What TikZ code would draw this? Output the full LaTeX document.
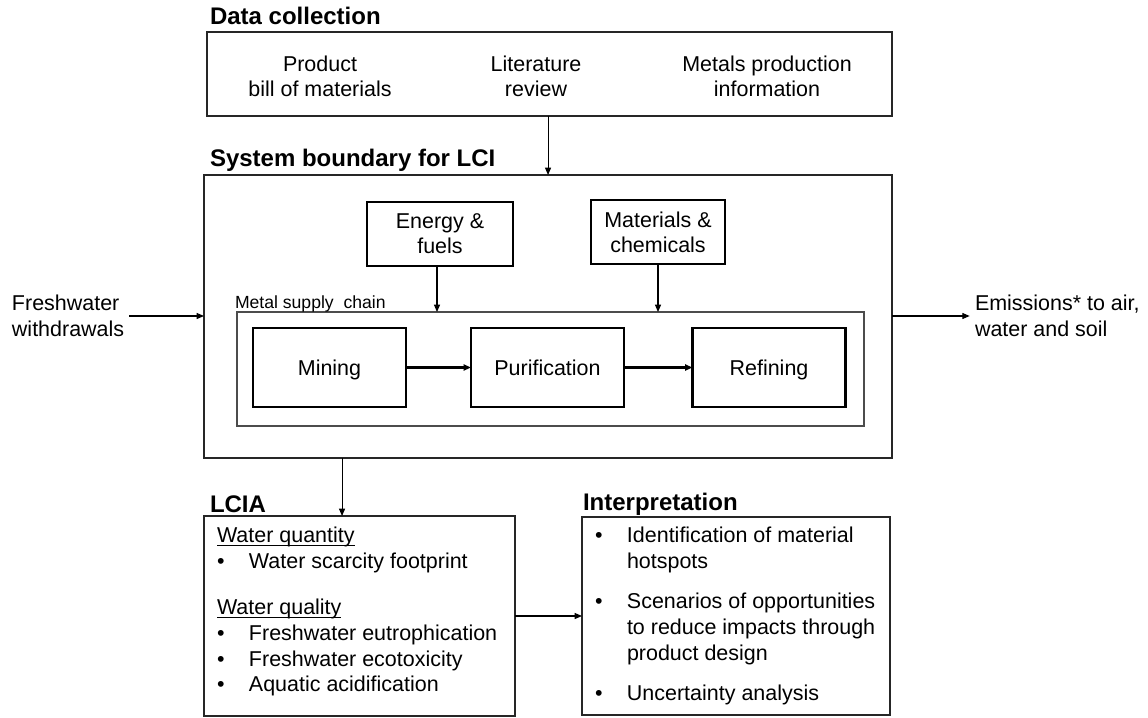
\documentclass[tikz,border=0pt]{standalone}
\usepackage{fontspec}
\setmainfont{Liberation Sans}
\usetikzlibrary{arrows.meta}

% bullet item with a fixed hanging indent
\newcommand{\blt}[1]{\makebox[24pt][l]{\textbullet}#1}
\newcommand{\hang}{\hspace*{24pt}}
% underline drawn just below the baseline
\newcommand{\subhead}[1]{\setbox0\hbox{#1}\rlap{\rule[-2.4pt]{\wd0}{0.65pt}}\box0}

\begin{document}
\begin{tikzpicture}[x=0.75pt,y=-0.75pt,
  every node/.style={inner sep=0pt, outer sep=0pt},
  body/.style={font=\fontsize{16.1pt}{18.75pt}\selectfont},
  heading/.style={font=\fontsize{18pt}{21pt}\selectfont\bfseries, anchor=base west},
  frame/.style={draw=black!85, line width=0.8pt},
  stage/.style={draw=black, line width=1.7pt, body, text height=14pt, text depth=2pt,
                minimum width=114.75pt, minimum height=59.25pt},
  input/.style={draw=black, line width=1.3pt, body, align=center, minimum height=48pt},
  flow/.style={-{Triangle[length=5.5pt,width=4.5pt]}, line width=0.8pt},
  bigflow/.style={flow, line width=1.6pt},
]
\useasboundingbox (0,0) rectangle (1148,717);

% section headings
\node[heading] (hdc) at (210,25) {Data collection};
\node[heading] (hsb) at (210,166) {System boundary for LCI};
\node[heading] (hlcia) at (210,512) {LCIA};
\node[heading] (hint) at (583,510) {Interpretation};

% data collection
\node[frame, minimum width=513.75pt, minimum height=63pt] (dc) at (549.5,74) {};
\node[body, align=center] (bom) at (320,76) {Product\\bill of materials};
\node[body, align=center] (lit) at (536,76) {Literature\\review};
\node[body, align=center] (mpi) at (767,76) {Metals production\\information};

% system boundary for the inventory
\node[frame, minimum width=516pt, minimum height=212.25pt] (sb) at (548,316.5) {};
\node[frame, draw=black!70, minimum width=470.25pt, minimum height=85.5pt] (chain) at (550.5,369) {};
\node[font=\fontsize{13.2pt}{15pt}\selectfont, anchor=base west] (chainlbl) at (235,308) {Metal supply\ \ chain};

\node[input, minimum width=109.5pt] (energy) at (440,234) {Energy \&\\fuels};
\node[input, minimum width=100.5pt] (mat) at (658,232) {Materials \&\\chemicals};

\node[stage] (mining) at (329.5,367.5) {Mining};
\node[stage] (purif) at (547.5,367.5) {Purification};
\node[stage] (refin) at (769,367.5) {Refining};

% flows in and out
\node[font=\fontsize{16.1pt}{19.5pt}\selectfont, align=left, anchor=west] (fresh) at (12,316) {Freshwater\\withdrawals};
\node[font=\fontsize{16.1pt}{19.5pt}\selectfont, align=left, anchor=west] (emis) at (975,316) {Emissions* to air,\\water and soil};

% impact assessment
\node[frame, minimum width=233.25pt, minimum height=150pt] (lcia) at (359.5,616) {};
\node[font=\fontsize{16.1pt}{19.3pt}\selectfont, align=left, anchor=north west] (lciatxt) at (217,527) {%
  \subhead{Water quantity}\\
  \blt{Water scarcity footprint}\\[15.5pt]
  \subhead{Water quality}\\
  \blt{Freshwater eutrophication}\\
  \blt{Freshwater ecotoxicity}\\
  \blt{Aquatic acidification}};

% interpretation
\node[frame, minimum width=231pt, minimum height=148.5pt] (interp) at (736,616) {};
\node[font=\fontsize{16.1pt}{19.5pt}\selectfont, align=left, anchor=north west] (interptxt) at (595,527) {%
  \blt{Identification of material}\\
  \hang hotspots\\[10.5pt]
  \blt{Scenarios of opportunities}\\
  \hang to reduce impacts through\\
  \hang product design\\[10.5pt]
  \blt{Uncertainty analysis}};

% connectors
\draw[flow] ([xshift=-1.1pt]dc.south) -- ([xshift=-1.1pt]dc.south |- sb.north);
\draw[flow] ([xshift=-2.25pt]energy.south) -- ([xshift=-2.25pt]energy.south |- chain.north);
\draw[flow] (mat.south) -- (mat.south |- chain.north);
\draw[bigflow] (mining) -- (purif);
\draw[bigflow] (purif) -- (refin);
\draw[flow] ([xshift=4pt]fresh.east) -- (fresh.east -| sb.west);
\draw[flow] (sb.east |- emis.west) -- ([xshift=-4pt]emis.west);
\draw[flow] ([xshift=-13.1pt]lcia.north |- sb.south) -- ([xshift=-13.1pt]lcia.north);
\draw[flow] (lcia.east) -- (interp.west);
\end{tikzpicture}
\end{document}
